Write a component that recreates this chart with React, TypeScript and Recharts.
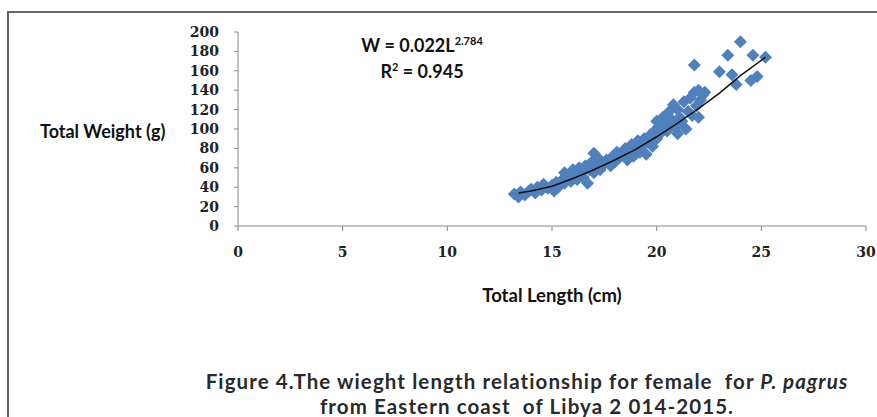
import { ScatterChart, Scatter, XAxis, YAxis } from "recharts";

// length (cm), weight (g)
const lengths = [
  13.2, 13.4, 13.5, 13.7, 13.9, 14.0, 14.2, 14.3, 14.5, 14.6, 14.8, 15.0, 15.1, 15.2, 15.3,
  15.5, 15.6, 15.6, 15.8, 15.9, 16.0, 16.1, 16.2, 16.3, 16.4, 16.5, 16.6, 16.7, 16.8, 16.9,
  17.0, 17.0, 17.1, 17.2, 17.3, 17.5, 17.6, 17.8, 17.9, 18.0, 18.1, 18.2, 18.4, 18.5, 18.6,
  18.7, 18.8, 18.9, 19.0, 19.1, 19.2, 19.3, 19.4, 19.5, 19.6, 19.7, 19.8, 19.9, 20.0, 20.0,
  20.1, 20.2, 20.3, 20.4, 20.5, 20.6, 20.7, 20.8, 20.9, 21.0, 21.0, 21.1, 21.2, 21.3, 21.4,
  21.5, 21.6, 21.7, 21.8, 21.8, 21.9, 22.0, 22.0, 22.1, 22.2, 22.3, 23.0, 23.4, 23.6, 23.8,
  24.0, 24.5, 24.6, 24.8, 25.2,
];
const weights = [
  33, 30, 35, 32, 36, 38, 34, 40, 37, 43, 39, 42, 36, 45, 40,
  48, 44, 55, 50, 46, 58, 52, 48, 60, 55, 50, 62, 44, 58, 66,
  75, 55, 62, 70, 58, 64, 68, 62, 72, 66, 76, 70, 74, 80, 68,
  78, 84, 72, 80, 88, 76, 82, 90, 74, 86, 94, 82, 98, 90, 108,
  102, 96, 112, 104, 98, 118, 110, 125, 102, 95, 120, 112, 108, 128, 100,
  118, 132, 114, 138, 166, 124, 112, 140, 130, 135, 138, 159, 176, 156, 146,
  190, 150, 176, 154, 174,
];

// fitted curve W = 0.022 L^2.784
const trendL = [13.4, 14, 15, 16, 17, 18, 19, 20, 21, 22, 23, 24, 25.2];
const trendW = [34, 36, 41, 49, 58, 68, 79, 92, 106, 121, 137, 155, 174];

const xTicks = [0, 5, 10, 15, 20, 25, 30];
const yTicks = [0, 20, 40, 60, 80, 100, 120, 140, 160, 180, 200];

const points = lengths.map((l, i) => ({ x: l, y: weights[i] }));
const trend = trendL.map((l, i) => ({ x: l, y: trendW[i] }));

const Diamond = (props: any) => {
  const { cx, cy } = props;
  const r = 6.5;
  return (
    <path
      d={`M${cx},${cy - r}L${cx + r},${cy}L${cx},${cy + r}L${cx - r},${cy}Z`}
      fill="#4F81BD"
    />
  );
};

const tickFont = { fontFamily: "'DejaVu Serif', serif", fontWeight: 700, fontSize: 14, fill: "#222" };
const labelFont = "Lato, 'Open Sans', sans-serif";

export default function App() {
  return (
    <div style={{ position: "absolute", left: 0, top: 0, width: 877, height: 417, background: "#fff", overflow: "hidden" }}>
      <div
        style={{
          position: "absolute",
          left: 7,
          top: 11,
          width: 890,
          height: 420,
          borderTop: "2px solid #666",
          borderLeft: "2px solid #666",
        }}
      />
      <ScatterChart
        width={877}
        height={417}
        margin={{ top: 32, right: 11, left: 198, bottom: 161 }}
        style={{ position: "absolute", left: 0, top: 0 }}
      >
        <XAxis
          type="number"
          dataKey="x"
          domain={[0, 30]}
          ticks={xTicks}
          height={30}
          stroke="#888"
          tickSize={5}
          tickMargin={16}
          tick={tickFont}
          allowDataOverflow
        />
        <YAxis
          type="number"
          dataKey="y"
          domain={[0, 200]}
          ticks={yTicks}
          width={40}
          stroke="#888"
          tickSize={4}
          tickMargin={15}
          tick={tickFont}
          interval={0}
        />
        <Scatter data={points} shape={<Diamond />} isAnimationActive={false} />
        <Scatter
          data={trend}
          line={{ stroke: "#111", strokeWidth: 1.5 }}
          shape={() => <g />}
          isAnimationActive={false}
        />
      </ScatterChart>
      <div
        style={{
          position: "absolute",
          left: 40,
          top: 120,
          fontFamily: labelFont,
          fontWeight: 700,
          fontSize: 18,
          color: "#111",
        }}
      >
        Total Weight (g)
      </div>
      <div
        style={{
          position: "absolute",
          left: 552,
          width: 240,
          marginLeft: -120,
          textAlign: "center",
          top: 284,
          fontFamily: labelFont,
          fontWeight: 700,
          fontSize: 18.5,
          color: "#111",
        }}
      >
        Total Length (cm)
      </div>
      <div
        style={{
          position: "absolute",
          left: 322,
          width: 200,
          top: 32,
          textAlign: "center",
          fontFamily: labelFont,
          fontWeight: 700,
          fontSize: 18,
          lineHeight: "26px",
          color: "#111",
        }}
      >
        <div>
          W = 0.022L<sup style={{ fontSize: 11, lineHeight: 0 }}>2.784</sup>
        </div>
        <div>
          R<sup style={{ fontSize: 11, lineHeight: 0 }}>2</sup> = 0.945
        </div>
      </div>
      <div
        style={{
          position: "absolute",
          left: 187,
          width: 680,
          top: 369,
          textAlign: "center",
          fontFamily: labelFont,
          fontWeight: 700,
          fontSize: 20.5,
          letterSpacing: 1.1,
          lineHeight: "24.6px",
          color: "#2a2a2a",
        }}
      >
        <div>
          Figure 4.The wieght length relationship for female{"\u00a0"} for <i>P. pagrus</i>
        </div>
        <div>from Eastern coast{"\u00a0"} of Libya 2 014-2015.</div>
      </div>
    </div>
  );
}
